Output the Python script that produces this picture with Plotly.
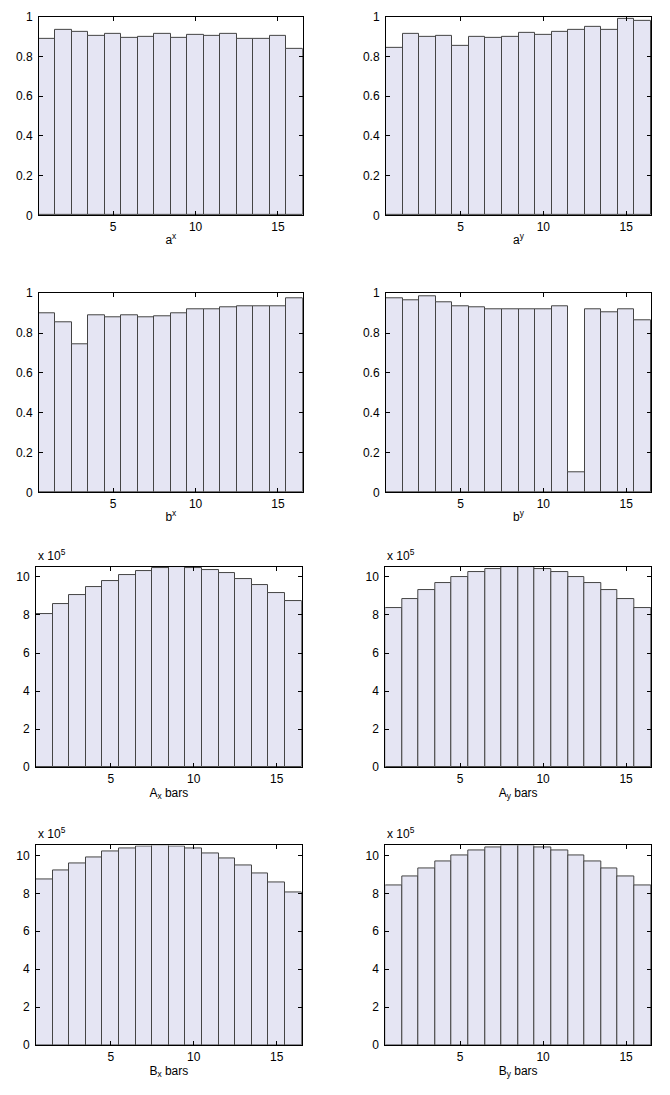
import plotly.graph_objects as go

bins = list(range(1, 17))

a_x = [0.887, 0.934, 0.924, 0.904, 0.916, 0.896, 0.901, 0.912, 0.894, 0.907, 0.904, 0.912, 0.891, 0.887, 0.906, 0.838]
a_y = [0.843, 0.912, 0.897, 0.902, 0.853, 0.897, 0.894, 0.899, 0.917, 0.909, 0.922, 0.934, 0.949, 0.934, 0.992, 0.982]
b_x = [0.902, 0.855, 0.742, 0.891, 0.881, 0.888, 0.879, 0.886, 0.902, 0.921, 0.921, 0.932, 0.936, 0.937, 0.936, 0.974]
b_y = [0.975, 0.967, 0.987, 0.954, 0.934, 0.931, 0.922, 0.921, 0.921, 0.922, 0.937, 0.102, 0.922, 0.907, 0.919, 0.863]
A_x = [804000, 856000, 903000, 946000, 981000, 1010000, 1033000, 1045000, 1052000, 1047000, 1036000, 1019000, 990000, 958000, 917000, 872000]
A_y = [837000, 886000, 931000, 969000, 1000000, 1024000, 1042000, 1050000, 1050000, 1042000, 1024000, 1000000, 969000, 931000, 886000, 837000]
B_x = [873000, 919000, 958000, 991000, 1019000, 1038000, 1049000, 1052000, 1047000, 1035000, 1010000, 983000, 946000, 905000, 858000, 806000]
B_y = [839000, 887000, 932000, 969000, 1000000, 1026000, 1040000, 1050000, 1050000, 1040000, 1026000, 1000000, 969000, 932000, 887000, 839000]

titles = ["a<sup>x</sup>", "a<sup>y</sup>", "b<sup>x</sup>", "b<sup>y</sup>",
          "A<sub>x</sub> bars", "A<sub>y</sub> bars", "B<sub>x</sub> bars", "B<sub>y</sub> bars"]
series = [a_x, a_y, b_x, b_y, A_x, A_y, B_x, B_y]

frac_ticks = [0, 0.2, 0.4, 0.6, 0.8, 1]
frac_labels = ["0", "0.2", "0.4", "0.6", "0.8", "1"]
big_ticks = [0, 200000, 400000, 600000, 800000, 1000000]
big_labels = ["0", "2", "4", "6", "8", "10"]
x_ticks = [5, 10, 15]

W, H = 670, 1095
# pixel boxes: (left, right, top, bottom)
boxes = [
    (39, 302.7, 10, 211), (386, 651, 10, 211),
    (39, 302.7, 290, 491.7), (386, 651, 290, 491.7),
    (36, 301.7, 567.3, 770), (385.3, 651, 567.3, 770),
    (36, 301.7, 849.3, 1051.7), (385.3, 651, 849.3, 1051.7),
]

FONT = "Liberation Sans, Arial, Helvetica, sans-serif"
fig = go.Figure()
layout = {}
annotations = []
for i, (vals, ttl, box) in enumerate(zip(series, titles, boxes)):
    n = i + 1
    xa = "x" if n == 1 else f"x{n}"
    ya = "y" if n == 1 else f"y{n}"
    fig.add_trace(go.Bar(x=bins, y=vals, width=1, xaxis=xa, yaxis=ya,
                         marker=dict(color="#e5e5f3", line=dict(color="#444444", width=1)),
                         showlegend=False, hoverinfo="x+y"))
    l, r, t, b = box
    big = i >= 4
    common = dict(showline=True, linecolor="black", linewidth=1, mirror="ticks",
                  ticks="inside", ticklen=4, tickcolor="black", showgrid=False,
                  zeroline=False, tickfont=dict(family=FONT, size=12, color="black"))
    layout["xaxis" if n == 1 else f"xaxis{n}"] = dict(
        domain=[l / W, r / W], anchor=ya, range=[0.5, 16.5],
        tickvals=x_ticks, ticktext=[str(v) for v in x_ticks],
        title=dict(text=ttl, font=dict(family=FONT, size=12, color="black"), standoff=2),
        **common)
    layout["yaxis" if n == 1 else f"yaxis{n}"] = dict(
        domain=[1 - b / H, 1 - t / H], anchor=xa,
        range=[0, 1052000] if big else [0, 1],
        tickvals=big_ticks if big else frac_ticks,
        ticktext=big_labels if big else frac_labels,
        ticklabelstandoff=3,
        **common)
    if big:
        annotations.append(dict(text="x 10<sup>5</sup>", xref="paper", yref="paper",
                                x=l / W, y=1 - (t - 2) / H, xanchor="left", yanchor="bottom",
                                showarrow=False, font=dict(family=FONT, size=12, color="black")))

fig.update_layout(width=W, height=H, margin=dict(l=0, r=0, t=0, b=0),
                  paper_bgcolor="white", plot_bgcolor="white", bargap=0,
                  annotations=annotations, **layout)
fig.write_html("out.html")
